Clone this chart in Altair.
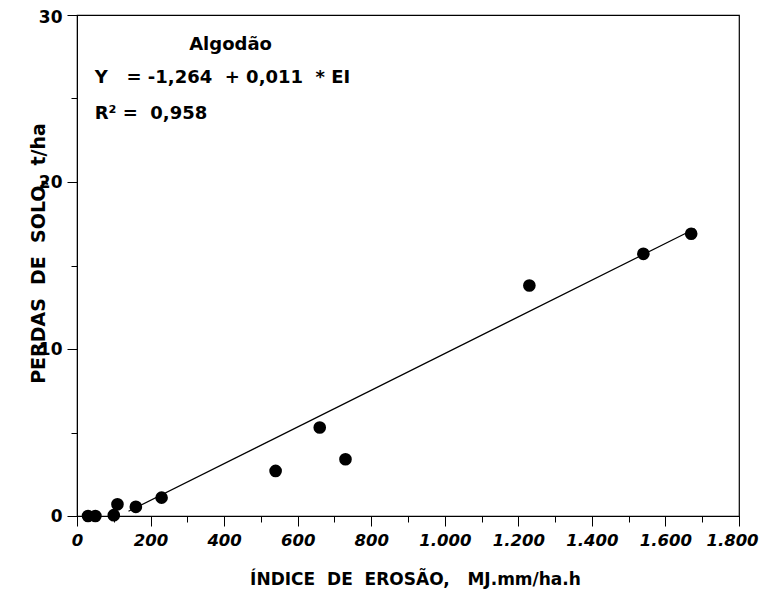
import altair as alt
import pandas as pd

# data
ei = [30, 50, 100, 110, 160, 230, 540, 660, 730, 1230, 1540, 1670]
perdas = [0.0, 0.0, 0.05, 0.7, 0.55, 1.1, 2.7, 5.3, 3.4, 13.8, 15.7, 16.9]

line_x = [140, 1680]
line_y = [0.28, 17.2]

x_major = [0, 200, 400, 600, 800, 1000, 1200, 1400, 1600, 1800]
x_minor = [100, 300, 500, 700, 900, 1100, 1300, 1500, 1700]
y_major = [0, 10, 20, 30]
y_minor = [5, 15, 25]

NB = "\u00a0"
ann_text = ["Algodão",
            f"Y{NB}{NB}{NB}={NB}-1,264{NB}{NB}+{NB}0,011{NB}{NB}*{NB}EI",
            f"R²{NB}={NB}{NB}0,958"]
ann_x = [305, 48, 48]
ann_y = [28.2, 26.2, 24.1]

x_title = f"ÍNDICE{NB}{NB}DE{NB}{NB}EROSÃO,{NB}{NB}{NB}MJ.mm/ha.h"
y_title = f"PERDAS{NB}{NB}DE{NB}{NB}SOLO,{NB}{NB}t/ha"

pts = pd.DataFrame({"ei": ei, "perdas": perdas})
ln = pd.DataFrame({"ei": line_x, "perdas": line_y})
ann = pd.DataFrame({"ei": ann_x, "perdas": ann_y, "t": ann_text})

FONT = "DejaVu Sans"
xs = alt.Scale(domain=[0, 1800], nice=False, zero=False)
ys = alt.Scale(domain=[0, 30], nice=False, zero=False)

x_axis_major = alt.Axis(
    values=x_major, orient="bottom", grid=False, tickSize=10, tickColor="black",
    domainColor="black", labelFont=FONT, labelFontSize=16.5, labelFontStyle="italic",
    labelFontWeight="bold", labelColor="black", labelPadding=6, labelOverlap=False,
    labelFlush=False,
    labelOffset={"condition": {"test": "datum.value == 1800", "value": -7}, "value": 0},
    labelExpr="replace(format(datum.value, ',d'), ',', '.')",
    title=x_title, titleFont=FONT, titleFontSize=17, titleFontWeight="bold",
    titleColor="black", titleX=338, titleY=63, titleBaseline="middle", titleAnchor="middle",
)
y_axis_major = alt.Axis(
    values=y_major, orient="left", grid=False, tickSize=10, tickColor="black",
    domainColor="black", labelFont=FONT, labelFontSize=17, labelFontWeight="bold",
    labelColor="black", labelPadding=5, format="d", labelOverlap=False, labelFlush=False,
    labelOffset={"condition": {"test": "datum.value == 30", "value": 2}, "value": 0},
    title=y_title, titleFont=FONT, titleFontSize=19, titleFontWeight="bold",
    titleColor="black", titleX=-39, titleY=238, titleBaseline="middle", titleAngle=-90,
    titleAnchor="middle",
)
x_axis_minor = alt.Axis(values=x_minor, orient="bottom", grid=False, tickSize=6,
                        tickColor="black", labels=False, domain=False, title=None)
y_axis_minor = alt.Axis(values=y_minor, orient="left", grid=False, tickSize=6,
                        tickColor="black", labels=False, domain=False, title=None)

points = alt.Chart(pts).mark_circle(size=160, color="black", opacity=1).encode(
    x=alt.X("ei:Q", scale=xs, axis=x_axis_major),
    y=alt.Y("perdas:Q", scale=ys, axis=y_axis_major),
)
reg = alt.Chart(ln).mark_line(color="black", strokeWidth=1.2).encode(
    x=alt.X("ei:Q", scale=xs, axis=x_axis_minor),
    y=alt.Y("perdas:Q", scale=ys, axis=y_axis_minor),
)
text = alt.Chart(ann).mark_text(align="left", baseline="middle", font=FONT,
                                fontSize=18, fontWeight="bold", color="black").encode(
    x=alt.X("ei:Q", scale=xs, axis=None),
    y=alt.Y("perdas:Q", scale=ys, axis=None),
    text="t:N",
)

chart = alt.layer(points, reg, text).resolve_axis(
    x="independent", y="independent"
).properties(
    width=662, height=501,
    autosize=alt.AutoSizeParams(type="none"),
    padding={"left": 69, "top": 7, "right": 20, "bottom": 74},
    background="white",
).configure_view(stroke="black", strokeWidth=1.2)

chart.save("out.html", embed_options={"renderer": "svg", "actions": False})
